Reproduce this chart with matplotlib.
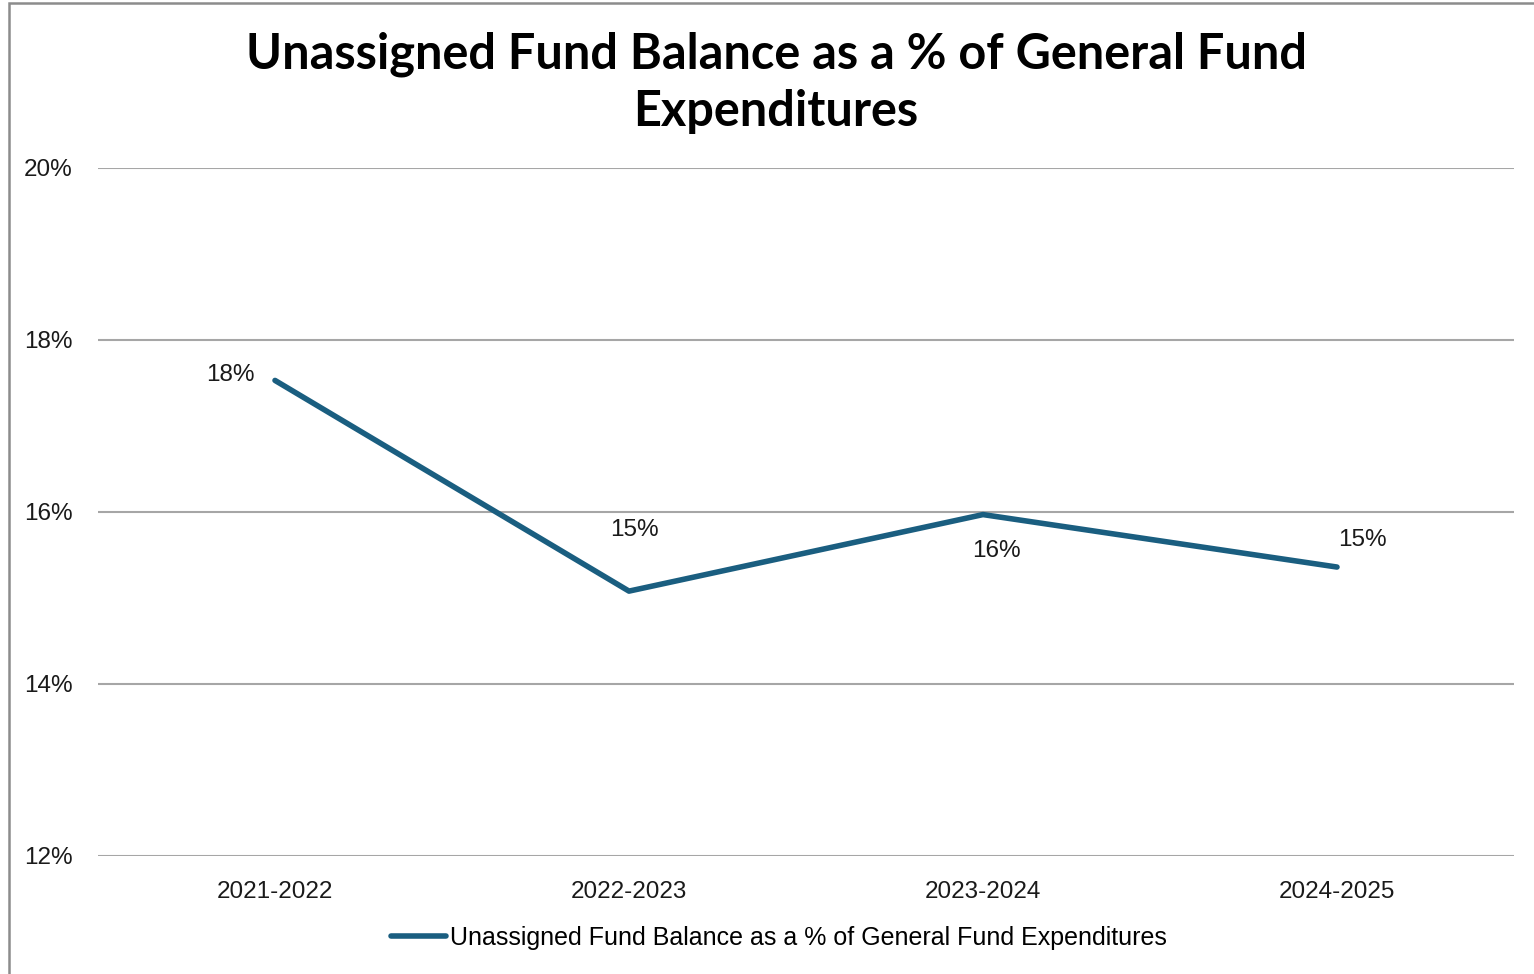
import matplotlib.pyplot as plt
from matplotlib.patches import Rectangle
from matplotlib.ticker import FuncFormatter

# fiscal years and unassigned balance (% of general fund expenditures)
years = ['2021-2022', '2022-2023', '2023-2024', '2024-2025']
pct = [17.53, 15.08, 15.97, 15.36]
# label offsets in pixels (dx, dy) for each point
label_off = [(-45, 5), (5, 61), (13, -36), (25, 27)]

line_color = '#1a5e80'
grid_color = '#a6a6a6'
dpi = 100
fs = 17.5

fig = plt.figure(figsize=(15.34, 9.74), dpi=dpi)
ax = fig.add_axes([98 / 1534, 1 - 856 / 974, (1514 - 98) / 1534, (856 - 168) / 974])

# chart frame (left and top visible)
fig.patches.append(Rectangle((9 / 1534, -0.05), 1.2, 1 - 3 / 974 + 0.05,
                             transform=fig.transFigure, fill=False,
                             edgecolor='#8c8c8c', linewidth=1.8))

x = list(range(len(years)))
ax.plot(x, pct, color=line_color, linewidth=4, solid_capstyle='round',
        solid_joinstyle='round', label='Unassigned Fund Balance as a % of General Fund Expenditures')

for xi, v, (dx, dy) in zip(x, pct, label_off):
    ax.annotate(f'{v:.0f}%', (xi, v), xytext=(dx * 0.72, dy * 0.72),
                textcoords='offset points', ha='center', va='center',
                fontsize=fs, family='Liberation Sans', color='#1a1a1a')

ax.set_xlim(-0.5, 3.5)
ax.set_ylim(12, 20)
ax.set_yticks([12, 14, 16, 18, 20])
ax.yaxis.set_major_formatter(FuncFormatter(lambda v, p: f'{v:.0f}%'))
ax.set_xticks(x)
ax.set_xticklabels(years)
ax.grid(axis='y', color=grid_color, linewidth=1.5)
ax.set_axisbelow(True)
for s in ax.spines.values():
    s.set_visible(False)
ax.tick_params(length=0, labelsize=fs, labelcolor='#1a1a1a')
ax.tick_params(axis='y', pad=18.5)
ax.tick_params(axis='x', pad=18)
for lab in ax.get_xticklabels() + ax.get_yticklabels():
    lab.set_family('Liberation Sans')

fig.text(776 / 1534, 1 - 83 / 974, 'Unassigned Fund Balance as a % of General Fund\nExpenditures',
         ha='center', va='center', fontsize=35, fontweight='bold', family='Lato',
         linespacing=1.32)

leg = fig.legend(loc='center', bbox_to_anchor=(779 / 1534, 1 - 938 / 974), frameon=False,
                 fontsize=18, handlelength=2.2, handletextpad=0.15)
for t in leg.get_texts():
    t.set_family('Liberation Sans')

fig.savefig('out.png', dpi=dpi, facecolor='white')
